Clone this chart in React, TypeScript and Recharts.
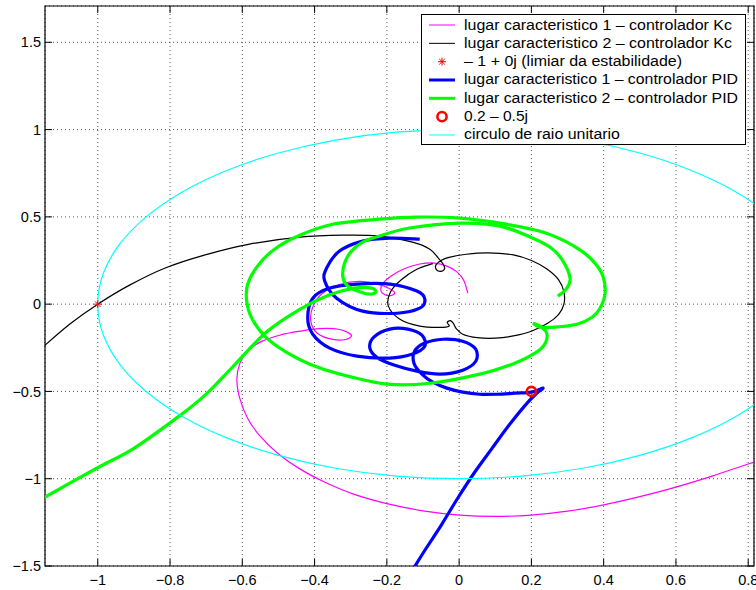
import React from "react";
import { ComposedChart, Line, Scatter, XAxis, YAxis, CartesianGrid, ReferenceLine, ReferenceArea } from "recharts";

const xTicks = [-1, -0.8, -0.6, -0.4, -0.2, 0, 0.2, 0.4, 0.6, 0.8];
const yTicks = [-1.5, -1, -0.5, 0, 0.5, 1, 1.5];
const X_MIN = -1.146, X_MAX = 0.816, Y_MIN = -1.5, Y_MAX = 1.708;

// lugar caracteristico 1 - controlador Kc (magenta)
const kc1 = [
  [0.83, -0.895], [0.7, -0.985], [0.6, -1.048], [0.5, -1.103], [0.4, -1.15], [0.3, -1.186],
  [0.2, -1.208], [0.1, -1.216], [0.0, -1.208], [-0.1, -1.184], [-0.2, -1.143], [-0.29, -1.09],
  [-0.37, -1.022], [-0.44, -0.945], [-0.5, -0.858], [-0.55, -0.758], [-0.585, -0.655], [-0.607, -0.54],
  [-0.615, -0.43], [-0.606, -0.335], [-0.582, -0.262], [-0.545, -0.212], [-0.497, -0.178], [-0.441, -0.155],
  [-0.386, -0.14], [-0.331, -0.145], [-0.298, -0.178], [-0.318, -0.204], [-0.362, -0.196], [-0.397, -0.158],
  [-0.411, -0.086], [-0.403, -0.006], [-0.378, 0.063], [-0.331, 0.112], [-0.275, 0.13], [-0.225, 0.115],
  [-0.192, 0.088], [-0.178, 0.063], [-0.195, 0.048], [-0.215, 0.07], [-0.212, 0.115], [-0.186, 0.164],
  [-0.15, 0.204], [-0.109, 0.23], [-0.067, 0.235], [-0.034, 0.218], [-0.006, 0.185], [0.013, 0.135], [0.024, 0.063],
];

// lugar caracteristico 2 - controlador Kc (black)
const kc2 = [
  [-1.162, -0.264], [-1.078, -0.115], [-1.0, 0], [-0.912, 0.109], [-0.815, 0.206], [-0.705, 0.281],
  [-0.58, 0.344], [-0.441, 0.384], [-0.322, 0.395], [-0.22, 0.39], [-0.129, 0.355], [-0.081, 0.315],
  [-0.058, 0.265], [-0.045, 0.232], [-0.04, 0.205], [-0.05, 0.188], [-0.063, 0.198], [-0.064, 0.225],
  [-0.05, 0.25], [-0.028, 0.268], [0.02, 0.286], [0.08, 0.294], [0.15, 0.282], [0.2, 0.25],
  [0.243, 0.201], [0.275, 0.14], [0.29, 0.07], [0.29, 0.0], [0.275, -0.06], [0.245, -0.11],
  [0.2, -0.155], [0.15, -0.182], [0.1, -0.195], [0.05, -0.192], [0.01, -0.172], [-0.008, -0.14],
  [-0.016, -0.11], [-0.024, -0.094], [-0.033, -0.105], [-0.028, -0.126], [-0.053, -0.133], [-0.109, -0.126],
  [-0.165, -0.085], [-0.196, -0.01], [-0.19, 0.07], [-0.16, 0.14], [-0.117, 0.2], [-0.073, 0.232],
];

// lugar caracteristico 1 - controlador PID (blue)
const pid1 = [
  [-0.131, -1.53], [-0.093, -1.404], [-0.048, -1.261], [-0.004, -1.112], [0.043, -0.963], [0.091, -0.826],
  [0.14, -0.688], [0.188, -0.567], [0.215, -0.51], [0.232, -0.481], [0.201, -0.504], [0.154, -0.51],
  [0.104, -0.516], [0.057, -0.516], [0.01, -0.504], [-0.034, -0.481], [-0.073, -0.447], [-0.103, -0.401],
  [-0.125, -0.338], [-0.123, -0.269], [-0.095, -0.223], [-0.045, -0.201], [0.01, -0.212], [0.046, -0.258],
  [0.046, -0.327], [0.01, -0.378], [-0.053, -0.401], [-0.117, -0.384], [-0.178, -0.35], [-0.225, -0.309],
  [-0.247, -0.252], [-0.236, -0.189], [-0.192, -0.143], [-0.142, -0.143], [-0.103, -0.178], [-0.095, -0.241],
  [-0.131, -0.287], [-0.192, -0.309], [-0.283, -0.298], [-0.358, -0.252], [-0.405, -0.172], [-0.419, -0.08],
  [-0.405, 0.034], [-0.358, 0.092], [-0.283, 0.115], [-0.192, 0.115], [-0.117, 0.075], [-0.095, 0.029],
  [-0.109, -0.023], [-0.172, -0.052], [-0.267, -0.04], [-0.339, 0.034], [-0.372, 0.132], [-0.367, 0.206],
  [-0.331, 0.304], [-0.267, 0.361], [-0.192, 0.378], [-0.109, 0.372],
];

// lugar caracteristico 2 - controlador PID (green), two pieces
const pid2a = [
  [-1.161, -1.123], [-1.003, -0.94], [-0.9, -0.826], [-0.774, -0.64], [-0.7, -0.515], [-0.627, -0.36],
  [-0.533, -0.16], [-0.441, -0.03], [-0.36, 0.052], [-0.29, 0.092], [-0.242, 0.092], [-0.231, 0.069],
  [-0.248, 0.057], [-0.281, 0.075], [-0.311, 0.109], [-0.322, 0.16], [-0.317, 0.235], [-0.298, 0.304],
  [-0.267, 0.355], [-0.22, 0.39], [-0.137, 0.436], [0.002, 0.464], [0.113, 0.447], [0.204, 0.378],
  [0.251, 0.327], [0.284, 0.258], [0.307, 0.149], [0.296, 0.086], [0.273, 0.046],
];
const pid2b = [
  [0.204, -0.109], [0.224, -0.132], [0.265, -0.132], [0.326, -0.115], [0.368, -0.075], [0.39, -0.023],
  [0.404, 0.063], [0.398, 0.16], [0.376, 0.235], [0.343, 0.298], [0.293, 0.361], [0.224, 0.418],
  [0.113, 0.464], [0.002, 0.493], [-0.117, 0.499], [-0.22, 0.487], [-0.35, 0.458], [-0.441, 0.395],
  [-0.511, 0.315], [-0.558, 0.218], [-0.585, 0.115], [-0.588, 0.017], [-0.574, -0.08], [-0.538, -0.183],
  [-0.483, -0.269], [-0.413, -0.344], [-0.33, -0.401], [-0.2, -0.458], [-0.081, -0.453], [0.057, -0.401],
  [0.154, -0.338], [0.21, -0.281], [0.237, -0.229], [0.243, -0.172], [0.229, -0.132], [0.204, -0.109],
];

// circulo de raio unitario (cyan), every 10 degrees
const unitCircle = [
  [1, 0], [0.985, 0.174], [0.94, 0.342], [0.866, 0.5], [0.766, 0.643], [0.643, 0.766], [0.5, 0.866],
  [0.342, 0.94], [0.174, 0.985], [0, 1], [-0.174, 0.985], [-0.342, 0.94], [-0.5, 0.866], [-0.643, 0.766],
  [-0.766, 0.643], [-0.866, 0.5], [-0.94, 0.342], [-0.985, 0.174], [-1, 0], [-0.985, -0.174], [-0.94, -0.342],
  [-0.866, -0.5], [-0.766, -0.643], [-0.643, -0.766], [-0.5, -0.866], [-0.342, -0.94], [-0.174, -0.985],
  [0, -1], [0.174, -0.985], [0.342, -0.94], [0.5, -0.866], [0.643, -0.766], [0.766, -0.643], [0.866, -0.5],
  [0.94, -0.342], [0.985, -0.174], [1, 0],
];

const criticalPoint = [{ x: -1, y: 0 }];
const designPoint = [{ x: 0.2, y: -0.5 }];

const legendLabels = [
  "lugar caracteristico 1 \u2013 controlador Kc",
  "lugar caracteristico 2 \u2013 controlador Kc",
  "\u2013 1 + 0j (limiar da estabilidade)",
  "lugar caracteristico 1 \u2013 controlador PID",
  "lugar caracteristico 2 \u2013 controlador PID",
  "0.2 \u2013 0.5j",
  "circulo de raio unitario",
];
const legendWidths = [268, 268, 218, 274, 274, 64, 156];

const toPts = (a: number[][]) => a.map(([x, y]) => ({ x, y }));
const fmt = (v: number) => (v < 0 ? "\u2212" + Math.abs(v) : String(v));
const FONT = "'Liberation Sans', Arial, Helvetica, sans-serif";

// catmull-rom through the points, so the parametric curves stay smooth
const smooth = (context: any) => {
  let pts: number[][] = [];
  return {
    areaStart() {},
    areaEnd() {},
    lineStart() {
      pts = [];
    },
    point(x: number, y: number) {
      pts.push([+x, +y]);
    },
    lineEnd() {
      if (!pts.length) return;
      context.moveTo(pts[0][0], pts[0][1]);
      for (let i = 0; i < pts.length - 1; i++) {
        const p0 = pts[Math.max(i - 1, 0)];
        const p1 = pts[i];
        const p2 = pts[i + 1];
        const p3 = pts[Math.min(i + 2, pts.length - 1)];
        context.bezierCurveTo(
          p1[0] + (p2[0] - p0[0]) / 6, p1[1] + (p2[1] - p0[1]) / 6,
          p2[0] - (p3[0] - p1[0]) / 6, p2[1] - (p3[1] - p1[1]) / 6,
          p2[0], p2[1]
        );
      }
    },
  };
};

const Asterisk = (props: any) => {
  const { cx, cy } = props;
  const r = 4;
  const d = r * 0.7;
  return (
    <g stroke="#ff0000" strokeWidth={1}>
      <line x1={cx - r} y1={cy} x2={cx + r} y2={cy} />
      <line x1={cx} y1={cy - r} x2={cx} y2={cy + r} />
      <line x1={cx - d} y1={cy - d} x2={cx + d} y2={cy + d} />
      <line x1={cx - d} y1={cy + d} x2={cx + d} y2={cy - d} />
    </g>
  );
};

const Ring = (props: any) => {
  const { cx, cy } = props;
  return <circle cx={cx} cy={cy} r={4.6} fill="none" stroke="#ff0000" strokeWidth={2.6} />;
};

const LegendBox = () => {
  const rowY = (i: number) => 11 + i * 18.33;
  const sample = (i: number) => {
    const y = rowY(i);
    if (i === 2) return <Asterisk cx={21} cy={y} />;
    if (i === 5) return <Ring cx={21} cy={y} />;
    const colors = ["#ff00ff", "#000000", "", "#0000ff", "#00ff00", "", "#00ffff"];
    const w = i === 3 || i === 4 ? 3 : 1;
    return <line x1={8} y1={y} x2={34} y2={y} stroke={colors[i]} strokeWidth={w} />;
  };
  return (
    <svg width={326} height={132} style={{ position: "absolute", left: 421, top: 14 }}>
      <rect x={0.5} y={0.5} width={324} height={130} fill="#fff" stroke="#000" />
      {legendLabels.map((t, i) => (
        <g key={i}>
          {sample(i)}
          <text x={43} y={rowY(i) + 4.5} fontSize={14} fontFamily={FONT} textLength={legendWidths[i]} lengthAdjust="spacingAndGlyphs">
            {t}
          </text>
        </g>
      ))}
    </svg>
  );
};

const tickStyle = { fontSize: 14.5, fill: "#000", fontFamily: FONT };
const TX = 0.0194;
const TY = 0.04;

export default function App() {
  return (
    <div style={{ position: "absolute", left: 0, top: 0, width: 756, height: 590, background: "#fff" }}>
      <ComposedChart width={756} height={590} margin={{ top: 6, right: 2, left: 0, bottom: 0 }}>
        <CartesianGrid stroke="#555" strokeDasharray="1 3" />
        <XAxis
          type="number"
          dataKey="x"
          domain={[X_MIN, X_MAX]}
          ticks={xTicks}
          allowDataOverflow
          interval={0}
          height={24}
          tickLine={false}
          axisLine={false}
          tickSize={0}
          tickMargin={9}
          tick={tickStyle}
          tickFormatter={fmt}
        />
        <YAxis
          type="number"
          dataKey="y"
          domain={[Y_MIN, Y_MAX]}
          ticks={yTicks}
          allowDataOverflow
          interval={0}
          width={45}
          tickLine={false}
          axisLine={false}
          tickSize={0}
          tickMargin={4}
          tick={tickStyle}
          tickFormatter={fmt}
        />
        <Line data={toPts(kc1)} dataKey="y" type={smooth as any} stroke="#ff00ff" strokeWidth={1.2} dot={false} isAnimationActive={false} />
        <Line data={toPts(kc2)} dataKey="y" type={smooth as any} stroke="#000000" strokeWidth={1.2} dot={false} isAnimationActive={false} />
        <Scatter data={criticalPoint} dataKey="y" shape={Asterisk} isAnimationActive={false} />
        <Line data={toPts(pid1)} dataKey="y" type={smooth as any} stroke="#0000ff" strokeWidth={3.2} dot={false} isAnimationActive={false} />
        <Line data={toPts(pid2a)} dataKey="y" type={smooth as any} stroke="#00ff00" strokeWidth={3.2} dot={false} isAnimationActive={false} />
        <Line data={toPts(pid2b)} dataKey="y" type={smooth as any} stroke="#00ff00" strokeWidth={3.2} dot={false} isAnimationActive={false} />
        <Scatter data={designPoint} dataKey="y" shape={Ring} isAnimationActive={false} />
        <Line data={toPts(unitCircle)} dataKey="y" type={smooth as any} stroke="#00ffff" strokeWidth={1.2} dot={false} isAnimationActive={false} />
        {xTicks.map((t) => (
          <ReferenceLine key={"b" + t} segment={[{ x: t, y: Y_MIN }, { x: t, y: Y_MIN + TY }]} stroke="#000" ifOverflow="visible" />
        ))}
        {xTicks.map((t) => (
          <ReferenceLine key={"t" + t} segment={[{ x: t, y: Y_MAX }, { x: t, y: Y_MAX - TY }]} stroke="#000" ifOverflow="visible" />
        ))}
        {yTicks.map((t) => (
          <ReferenceLine key={"l" + t} segment={[{ x: X_MIN, y: t }, { x: X_MIN + TX, y: t }]} stroke="#000" ifOverflow="visible" />
        ))}
        {yTicks.map((t) => (
          <ReferenceLine key={"r" + t} segment={[{ x: X_MAX, y: t }, { x: X_MAX - TX, y: t }]} stroke="#000" ifOverflow="visible" />
        ))}
        <ReferenceArea x1={X_MIN} x2={X_MAX} y1={Y_MIN} y2={Y_MAX} fill="none" stroke="#000" strokeWidth={1.2} ifOverflow="visible" />
      </ComposedChart>
      <LegendBox />
    </div>
  );
}
